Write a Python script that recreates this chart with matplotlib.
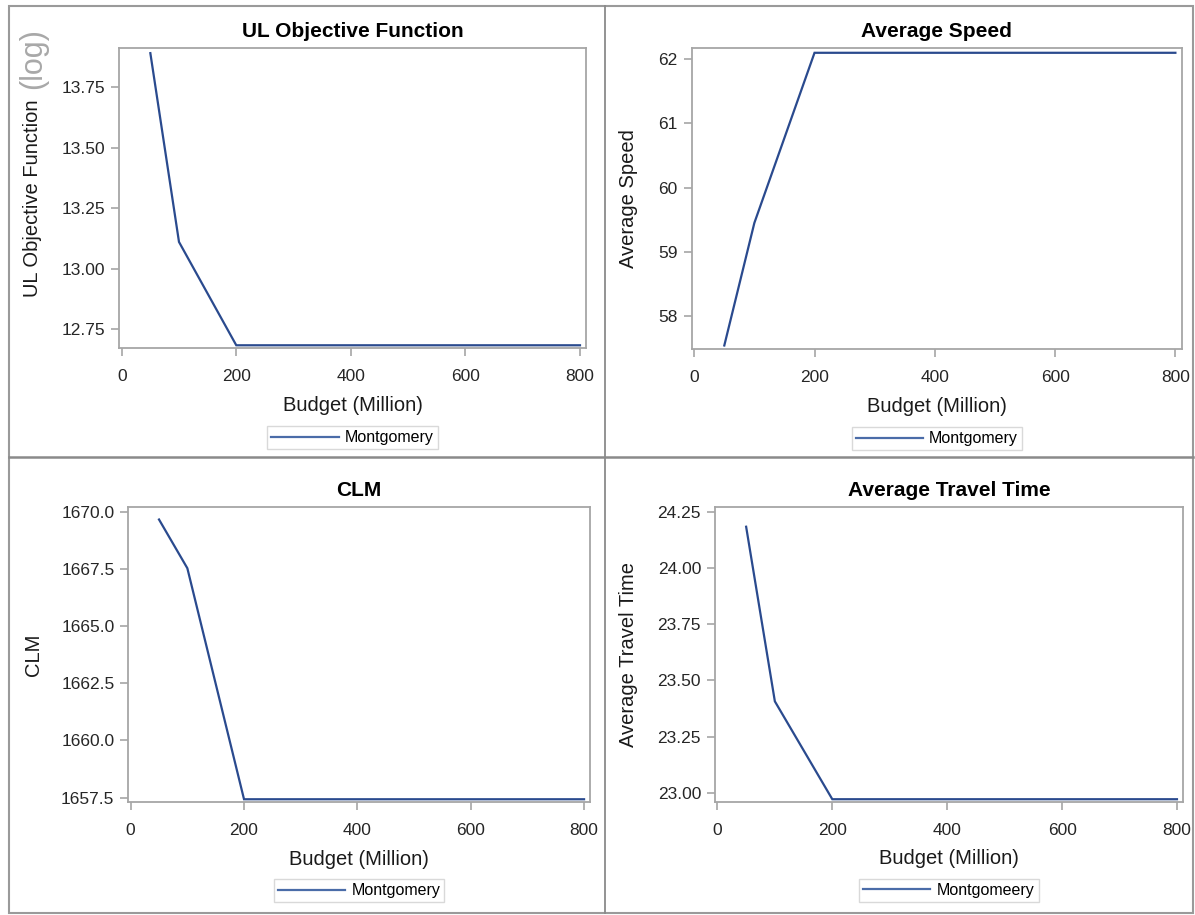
import matplotlib
matplotlib.use("Agg")
import matplotlib.pyplot as plt
from matplotlib.lines import Line2D
from matplotlib.patches import Rectangle
from matplotlib.ticker import FormatStrFormatter

plt.rcParams["font.family"] = ["Liberation Sans", "DejaVu Sans"]

# Budget scenarios (million) and results for Montgomery
budget = [50, 100, 200, 400, 800]
ul_objective = [13.89, 13.11, 12.683, 12.683, 12.683]
avg_speed = [57.54, 59.45, 62.10, 62.10, 62.10]
clm = [1669.66, 1667.53, 1657.43, 1657.43, 1657.43]
avg_travel_time = [24.183, 23.407, 22.972, 22.972, 22.972]

x_ticks = [0, 200, 400, 600, 800]
ul_ticks = [12.75, 13.00, 13.25, 13.50, 13.75]
speed_ticks = [58, 59, 60, 61, 62]
clm_ticks = [1657.5, 1660.0, 1662.5, 1665.0, 1667.5, 1670.0]
travel_ticks = [23.00, 23.25, 23.50, 23.75, 24.00, 24.25]

W, H = 1195, 915
fig = plt.figure(figsize=(W / 100, H / 100), dpi=100)
fig.patch.set_facecolor("white")

LINE = "#2a4a8e"
SPINE = "#a6a6a6"


def rect(l, r, t, b):
    return [l / W, 1 - b / H, (r - l) / W, (b - t) / H]


panels = [
    dict(pos=rect(119.3, 586, 48.3, 347.7), y=ul_objective, title="UL Objective Function",
         ylabel="UL Objective Function", ylim=(12.673, 13.91), yticks=ul_ticks, fmt="%.2f",
         legend="Montgomery", ylab_x=33),
    dict(pos=rect(691.7, 1181.7, 48.3, 348.7), y=avg_speed, title="Average Speed",
         ylabel="Average Speed", ylim=(57.49, 62.17), yticks=speed_ticks, fmt="%d",
         legend="Montgomery", ylab_x=628),
    dict(pos=rect(128.3, 590, 506.7, 802), y=clm, title="CLM",
         ylabel="CLM", ylim=(1657.31, 1670.22), yticks=clm_ticks, fmt="%.1f",
         legend="Montgomery", ylab_x=33),
    dict(pos=rect(715, 1183, 506.7, 801.7), y=avg_travel_time, title="Average Travel Time",
         ylabel="Average Travel Time", ylim=(22.961, 24.272), yticks=travel_ticks, fmt="%.2f",
         legend="Montgomeery", ylab_x=628),
]

for p in panels:
    ax = fig.add_axes(p["pos"])
    ax.plot(budget, p["y"], color=LINE, lw=1.6, label=p["legend"], solid_joinstyle="miter")
    ax.set_xlim(-4.2, 810.5)
    ax.set_ylim(*p["ylim"])
    ax.set_xticks(x_ticks)
    ax.set_yticks(p["yticks"])
    ax.yaxis.set_major_formatter(FormatStrFormatter(p["fmt"]))
    for s in ax.spines.values():
        s.set_color(SPINE)
        s.set_linewidth(1.3)
    ax.tick_params(axis="both", colors=SPINE, labelcolor="#262626", labelsize=12.5,
                   length=6, width=1.2)
    ax.tick_params(axis="x", pad=9)
    ax.tick_params(axis="y", pad=4)
    ax.set_title(p["title"], fontsize=15, fontweight="bold", color="black", pad=8)
    ax.set_xlabel("Budget (Million)", fontsize=14.5, color="#1a1a1a")
    ax.xaxis.set_label_coords(0.5, -0.162)
    ax.set_ylabel(p["ylabel"], fontsize=14.5, color="#1a1a1a")
    bb = ax.get_position()
    ax.yaxis.set_label_coords((p["ylab_x"] - bb.x0 * W) / (bb.width * W), 0.5)
    ax.yaxis.label.set_va("center")
    leg = ax.legend(loc="upper center", bbox_to_anchor=(0.5, -0.262), frameon=True,
                    fancybox=False, fontsize=11.5, handlelength=4.2, handletextpad=0.4,
                    borderpad=0.25, borderaxespad=0)
    leg.get_frame().set_edgecolor("#d0d0d0")
    leg.get_frame().set_linewidth(1.0)
    for h in leg.get_lines():
        h.set_color("#4a6ca8")
        h.set_linewidth(1.6)

# scale note beside the first y label
fig.text(33 / W, 1 - 59 / H, "(log)", rotation=90, fontsize=22, color="#a8a8a8",
         ha="center", va="center")

# panel frame and dividers
fig.add_artist(Rectangle((9 / W, 1 - 913 / H), (1193 - 9) / W, (913 - 6) / H,
                         transform=fig.transFigure, fill=False, edgecolor="#9a9a9a", lw=1.5))
fig.add_artist(Line2D([605 / W, 605 / W], [1 - 6 / H, 1 - 913 / H],
                      transform=fig.transFigure, color="#8a8a8a", lw=1.3))
fig.add_artist(Line2D([9 / W, 1193 / W], [1 - 457 / H, 1 - 457 / H],
                      transform=fig.transFigure, color="#8a8a8a", lw=1.8))

fig.savefig("out.png", dpi=100, facecolor="white")
